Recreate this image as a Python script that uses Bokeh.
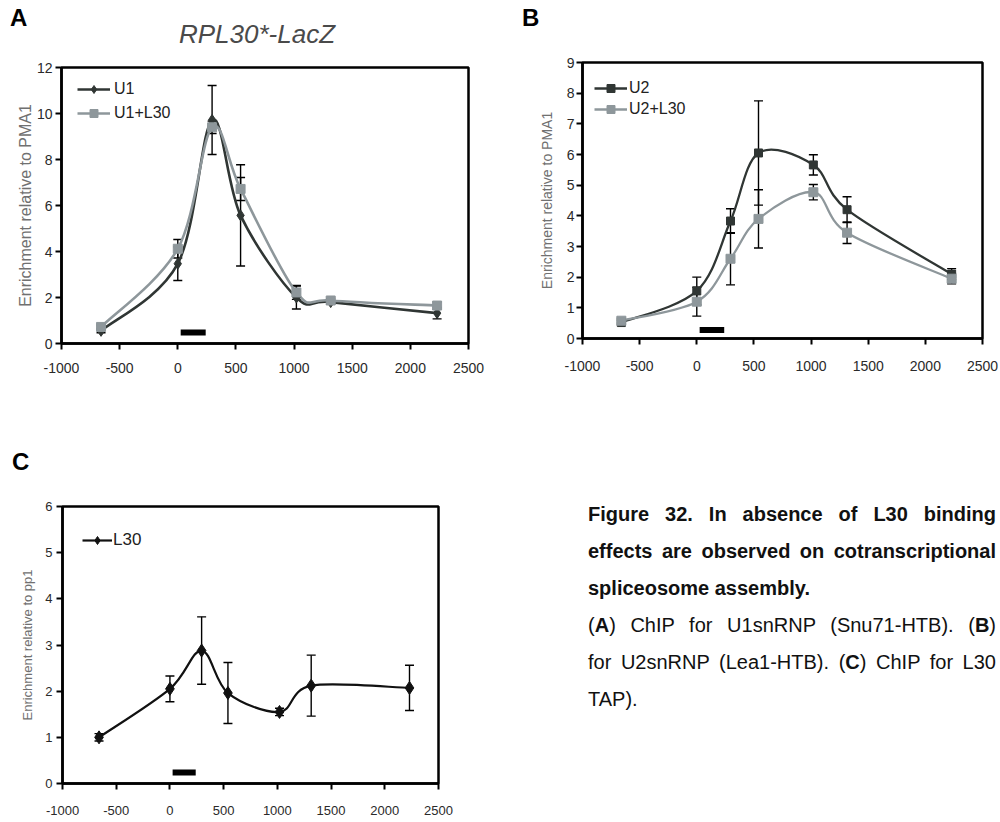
import numpy as np
from bokeh.plotting import figure
from bokeh.models import (ColumnDataSource, Whisker, TeeHead, Legend,
                          LegendItem, Div, FixedTicker, Range1d)
from bokeh.layouts import row, column
from bokeh.embed import file_html
from bokeh.resources import INLINE

# ---------------- data ----------------
positions = [-660, 0, 295, 540, 1020, 1315, 2230]
x_ticks = [-1000, -500, 0, 500, 1000, 1500, 2000, 2500]
intron = [25, 240]

u1 = [0.55, 3.47, 9.72, 5.57, 2.00, 1.80, 1.32]
u1_err = [0.08, 0.73, 1.50, 2.20, 0.50, 0.10, 0.25]
u1_l30 = [0.72, 4.12, 9.40, 6.72, 2.22, 1.87, 1.65]
u1_l30_err = [0.08, 0.40, 0.27, 0.50, 0.30, 0.10, 0.15]

u2 = [0.52, 1.55, 3.83, 6.05, 5.66, 4.20, 2.10]
u2_err = [0.08, 0.45, 0.40, 1.70, 0.33, 0.42, 0.18]
u2_l30 = [0.58, 1.20, 2.60, 3.90, 4.77, 3.45, 1.95]
u2_l30_err = [0.08, 0.47, 0.85, 0.95, 0.25, 0.35, 0.17]

l30 = [1.00, 2.05, 2.88, 1.96, 1.55, 2.12, 2.07]
l30_err = [0.08, 0.28, 0.73, 0.66, 0.08, 0.66, 0.49]

yticks_a = [0, 2, 4, 6, 8, 10, 12]
yticks_b = [0, 1, 2, 3, 4, 5, 6, 7, 8, 9]
yticks_c = [0, 1, 2, 3, 4, 5, 6]

SANS = "Liberation Sans"
NARROW = "'Liberation Sans Narrow', 'Arial Narrow', 'Liberation Sans'"
DARK = "#303634"
GRAY = "#8e979b"


def smooth(xs, ys):
    """Excel-like smoothed line: cubic Bezier segments (Catmull-Rom, 1/6)."""
    P = np.column_stack([np.asarray(xs, float), np.asarray(ys, float)])
    prev = np.vstack([P[:1], P[:-1]])
    nxt = np.vstack([P[1:], P[-1:]])
    tan = (nxt - prev) / 6.0
    c0 = P[:-1] + tan[:-1]
    c1 = P[1:] - tan[1:]
    return ColumnDataSource(dict(x0=P[:-1, 0], y0=P[:-1, 1], x1=P[1:, 0], y1=P[1:, 1],
                                 cx0=c0[:, 0], cy0=c0[:, 1], cx1=c1[:, 0], cy1=c1[:, 1]))


def base_fig(fw, fh, bl, bt, br, bb, ymax, yticks, font, tick_size, ylabel,
             label_size, y_lab_standoff, y_title_standoff, x_lab_standoff):
    p = figure(frame_width=fw, frame_height=fh, min_border_left=bl, min_border_top=bt,
               min_border_right=br, min_border_bottom=bb, title=None,
               x_range=Range1d(-1000, 2500), y_range=Range1d(0, ymax),
               output_backend="svg", toolbar_location=None, tools="")
    p.grid.visible = False
    p.background_fill_color = "white"
    p.border_fill_color = "white"
    p.outline_line_color = "black"
    p.outline_line_width = 2.5
    p.outline_line_alpha = 1.0
    p.xaxis.ticker = FixedTicker(ticks=x_ticks)
    p.xaxis.major_label_overrides = {t: str(t) for t in x_ticks}
    p.yaxis.ticker = FixedTicker(ticks=yticks)
    for ax in (p.xaxis[0], p.yaxis[0]):
        ax.axis_line_width = 2.5
        ax.axis_line_color = "black"
        ax.major_tick_line_width = 2
        ax.major_tick_line_color = "black"
        ax.major_tick_out = 6
        ax.major_tick_in = 0
        ax.minor_tick_out = 0
        ax.minor_tick_in = 0
        ax.major_label_text_font = font
        ax.major_label_text_font_size = tick_size
        ax.major_label_text_color = "#2a2a2a"
    p.yaxis.major_label_standoff = y_lab_standoff
    p.xaxis.major_label_standoff = x_lab_standoff
    p.yaxis.axis_label = ylabel
    p.yaxis.axis_label_text_font = font
    p.yaxis.axis_label_text_font_size = label_size
    p.yaxis.axis_label_text_font_style = "normal"
    p.yaxis.axis_label_text_color = "#707070"
    p.yaxis.axis_label_standoff = y_title_standoff
    return p


def errbars(p, ys, errs):
    src = ColumnDataSource(dict(x=positions,
                                upper=[v + e for v, e in zip(ys, errs)],
                                lower=[v - e for v, e in zip(ys, errs)]))
    w = Whisker(base="x", upper="upper", lower="lower", source=src,
                line_color="black", line_width=1.4,
                upper_head=TeeHead(size=9, line_color="black", line_width=1.4),
                lower_head=TeeHead(size=9, line_color="black", line_width=1.4))
    p.add_layout(w)


def header(width, height, items):
    spans = "".join(
        f'<div style="position:absolute; left:{l}px; top:{t}px; {extra} line-height:1; '
        f'white-space:nowrap; font-family:\'Liberation Sans\', Arial, sans-serif;">{txt}</div>'
        for (txt, l, t, extra) in items)
    html = f'<div style="position:relative; width:{width}px; height:{height}px; overflow:hidden;">{spans}</div>'
    return Div(text=html, width=width, height=height, margin=0, styles={"overflow": "hidden"})


LETTER = "font-size:24px; font-weight:bold; color:#000;"

# ---------------- Panel A ----------------
pa = base_fig(407, 276, 61, 12, 22, 49, 12, yticks_a, SANS, "14px",
              "Enrichment relative to PMA1", "16px", 3, 0, 13)
ba1 = pa.bezier(source=smooth(positions, u1), x0="x0", y0="y0", x1="x1", y1="y1",
                cx0="cx0", cy0="cy0", cx1="cx1", cy1="cy1", line_color=DARK, line_width=2.6)
ba2 = pa.bezier(source=smooth(positions, u1_l30), x0="x0", y0="y0", x1="x1", y1="y1",
                cx0="cx0", cy0="cy0", cx1="cx1", cy1="cy1", line_color=GRAY, line_width=2.6)
sa1 = pa.scatter(positions, u1, marker="diamond", size=11, color=DARK)
sa2 = pa.scatter(positions, u1_l30, marker="square", size=9, color=GRAY)
errbars(pa, u1, u1_err)
errbars(pa, u1_l30, u1_l30_err)
pa.segment(x0=[intron[0]], x1=[intron[1]], y0=[0.48], y1=[0.48], line_color="black",
           line_width=6, line_cap="butt")
leg_a = Legend(items=[LegendItem(label="U1", renderers=[ba1, sa1]),
                      LegendItem(label="U1+L30", renderers=[ba2, sa2])],
               location=(16, 220), orientation="vertical", padding=0, margin=0,
               spacing=4, glyph_width=33, glyph_height=20, label_height=20,
               label_standoff=4, border_line_color=None, background_fill_alpha=0,
               label_text_font=SANS, label_text_font_size="16px", label_text_color="#222222")
pa.add_layout(leg_a)
head_a = header(490, 55, [
    ("A", 10, 6, LETTER),
    ("RPL30*-LacZ", 0, 21, "width:514px; text-align:center; font-size:26px; font-style:italic; color:#4a4a4a;"),
])

# ---------------- Panel B ----------------
pb = base_fig(400, 276, 92, 12, 18, 54, 9, yticks_b, SANS, "14px",
              "Enrichment relative to PMA1", "14px", 2, 9, 16)
bb1 = pb.bezier(source=smooth(positions, u2), x0="x0", y0="y0", x1="x1", y1="y1",
                cx0="cx0", cy0="cy0", cx1="cx1", cy1="cy1", line_color=DARK, line_width=2.3)
bb2 = pb.bezier(source=smooth(positions, u2_l30), x0="x0", y0="y0", x1="x1", y1="y1",
                cx0="cx0", cy0="cy0", cx1="cx1", cy1="cy1", line_color=GRAY, line_width=2.3)
sb1 = pb.scatter(positions, u2, marker="square", size=8, color=DARK)
sb2 = pb.scatter(positions, u2_l30, marker="square", size=9, color=GRAY)
errbars(pb, u2, u2_err)
errbars(pb, u2_l30, u2_l30_err)
pb.segment(x0=[intron[0]], x1=[intron[1]], y0=[0.28], y1=[0.28], line_color="black",
           line_width=6, line_cap="butt")
leg_b = Legend(items=[LegendItem(label="U2", renderers=[bb1, sb1]),
                      LegendItem(label="U2+L30", renderers=[bb2, sb2])],
               location=(12, 219), orientation="vertical", padding=0, margin=0,
               spacing=1, glyph_width=33, glyph_height=20, label_height=20,
               label_standoff=2, border_line_color=None, background_fill_alpha=0,
               label_text_font=SANS, label_text_font_size="16px", label_text_color="#222222")
pb.add_layout(leg_b)
head_b = header(510, 50, [("B", 32, 6, LETTER)])

# ---------------- Panel C ----------------
pc = base_fig(376, 277, 62, 14, 122, 39, 6, yticks_c, NARROW, "13px",
              "Enrichment relative to pp1", "13px", 4, 7, 16)
bc = pc.bezier(source=smooth(positions, l30), x0="x0", y0="y0", x1="x1", y1="y1",
               cx0="cx0", cy0="cy0", cx1="cx1", cy1="cy1", line_color="#111111", line_width=2.2)
sc = pc.scatter(positions, l30, marker="diamond", size=13, color="#111111")
errbars(pc, l30, l30_err)
pc.segment(x0=[intron[0]], x1=[intron[1]], y0=[0.24], y1=[0.24], line_color="black",
           line_width=6, line_cap="butt")
leg_c = Legend(items=[LegendItem(label="L30", renderers=[bc, sc])],
               location=(20, 233), orientation="vertical", padding=0, margin=0,
               glyph_width=30, glyph_height=20, label_height=20, label_standoff=1,
               border_line_color=None, background_fill_alpha=0,
               label_text_font=NARROW, label_text_font_size="17px", label_text_color="#222222")
pc.add_layout(leg_c)
head_c = header(560, 100, [("C", 12, 58, LETTER)])

# ---------------- Caption ----------------
JL = "text-align:justify; text-align-last:justify;"
caption = f"""
<div style="margin-left:28px; padding-top:104px; width:408px;
            font-family:'Liberation Sans', Arial, sans-serif; font-size:20px; line-height:37px;
            color:#111111; white-space:nowrap; text-align:left;">
  <div style="font-weight:bold; {JL}">Figure 32. In absence of L30 binding</div>
  <div style="font-weight:bold; {JL}">effects are observed on cotranscriptional</div>
  <div style="font-weight:bold;">spliceosome assembly.</div>
  <div style="{JL}">(<b>A</b>) ChIP for U1snRNP (Snu71-HTB). (<b>B</b>)</div>
  <div style="{JL}">for U2snRNP (Lea1-HTB). (<b>C</b>) ChIP for L30</div>
  <div>TAP).</div>
</div>
"""
cap = Div(text=caption, width=440, height=430, margin=0)

layout = column(
    row(column(head_a, pa, spacing=0), column(head_b, pb, spacing=0), spacing=0),
    row(column(head_c, pc, spacing=0), cap, spacing=0),
    spacing=0)

open("out.html", "w").write(file_html(layout, INLINE))
